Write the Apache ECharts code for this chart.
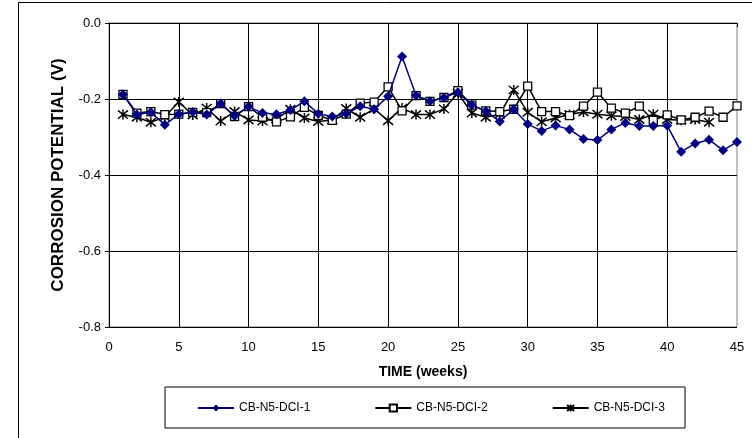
<!DOCTYPE html>
<html>
<head>
<meta charset="utf-8">
<title>Corrosion potential</title>
<script src="https://cdn.jsdelivr.net/npm/echarts@6/dist/echarts.min.js"></script>
<style>
html,body{margin:0;padding:0;background:#fff;}
#main{width:752px;height:438px;}
</style>
</head>
<body>
<div id="main"></div>
<script>
// weeks of exposure
var weeks=[1,2,3,4,5,6,7,8,9,10,11,12,13,14,15,16,17,18,19,20,21,22,23,24,25,26,27,28,29,30,31,32,33,34,35,36,37,38,39,40,41,42,43,44,45];
var yTicks=['0.0','-0.2','-0.4','-0.6','-0.8'];
var seriesNames=['CB-N5-DCI-1','CB-N5-DCI-2','CB-N5-DCI-3'];
var dci1=[-0.188,-0.241,-0.235,-0.268,-0.240,-0.234,-0.241,-0.212,-0.244,-0.220,
	-0.237,-0.240,-0.229,-0.206,-0.239,-0.246,-0.239,-0.219,-0.227,-0.193,
	-0.088,-0.191,-0.206,-0.197,-0.182,-0.216,-0.232,-0.259,-0.227,-0.266,
	-0.284,-0.270,-0.280,-0.305,-0.308,-0.280,-0.263,-0.271,-0.271,-0.270,
	-0.339,-0.317,-0.307,-0.335,-0.313];
var dci2=[-0.188,-0.237,-0.233,-0.241,-0.240,-0.235,-0.236,-0.212,-0.246,-0.220,
	-0.248,-0.260,-0.247,-0.222,-0.243,-0.256,-0.240,-0.211,-0.208,-0.168,
	-0.231,-0.191,-0.206,-0.196,-0.178,-0.216,-0.231,-0.233,-0.227,-0.166,
	-0.233,-0.233,-0.244,-0.219,-0.182,-0.224,-0.237,-0.219,-0.256,-0.242,
	-0.255,-0.248,-0.232,-0.248,-0.218];
var dci3=[-0.241,-0.248,-0.261,-0.247,-0.208,-0.242,-0.224,-0.258,-0.233,-0.255,
	-0.258,-0.252,-0.227,-0.250,-0.259,-0.255,-0.225,-0.248,-0.226,-0.257,
	-0.224,-0.241,-0.241,-0.226,-0.185,-0.237,-0.248,-0.240,-0.176,-0.235,
	-0.260,-0.250,-0.241,-0.234,-0.240,-0.244,-0.246,-0.254,-0.240,-0.254,
	-0.256,-0.254,-0.261];

var toPairs=function(vals){
	var out=[];
	for(var i=0;i<vals.length;i++){
		out.push([weeks[i],vals[i]]);
	}
	return out;
};

var FONT='"Liberation Sans", Arial, sans-serif';
var starPath='path://M0,0L10,10M10,0L0,10M5,-1L5,11';

var dom=document.getElementById('main');
var myChart=echarts.init(dom,null,{renderer:'canvas'});

var option={
	animation:false,
	backgroundColor:'#fff',
	textStyle:{fontFamily:FONT,color:'#000'},
	grid:{
		left:109,right:15,top:23,bottom:111,
		show:true,
		borderColor:'#808080',
		borderWidth:1
	},
	xAxis:{
		type:'value',
		min:0,max:45,interval:5,
		axisLine:{lineStyle:{color:'#000',width:1}},
		axisTick:{show:true,length:4,inside:false,lineStyle:{color:'#000'}},
		axisLabel:{color:'#000',fontSize:13,fontFamily:FONT,margin:14},
		splitLine:{show:true,showMaxLine:false,lineStyle:{color:'#000',width:1}}
	},
	yAxis:{
		type:'value',
		min:-0.8,max:0,interval:0.2,
		axisLine:{show:true,lineStyle:{color:'#000',width:1}},
		axisTick:{show:true,length:4,lineStyle:{color:'#000'}},
		axisLabel:{
			color:'#000',fontSize:13,fontFamily:FONT,margin:8,
			formatter:function(v){
				var idx=Math.round(-v/0.2);
				return yTicks[idx];
			}
		},
		splitLine:{show:true,showMaxLine:false,lineStyle:{color:'#000',width:1}}
	},
	legend:{
		data:seriesNames,
		left:165,top:387,
		orient:'horizontal',
		itemWidth:36,itemHeight:9,itemGap:64,
		padding:[15,20,14,32],
		borderColor:'#000',borderWidth:1,
		textStyle:{fontFamily:FONT,fontSize:12,color:'#000'}
	},
	graphic:[
		{
			type:'rect',
			shape:{x:18.5,y:2.5,width:800,height:500},
			style:{fill:'none',stroke:'#000',lineWidth:1},
			silent:true
		},
		{
			type:'text',
			x:58,y:175,rotation:Math.PI/2,
			style:{
				text:'CORROSION POTENTIAL (V)',
				font:'bold 17px '+FONT,
				fill:'#000',
				textAlign:'center',textVerticalAlign:'middle'
			}
		},
		{
			type:'text',
			x:423,y:372,
			style:{
				text:'TIME (weeks)',
				font:'bold 14px '+FONT,
				fill:'#000',
				textAlign:'center',textVerticalAlign:'middle'
			}
		}
	],
	series:[
		{
			name:seriesNames[0],
			type:'line',
			data:toPairs(dci1),
			symbol:'diamond',symbolSize:10,
			lineStyle:{color:'#000080',width:1.5},
			itemStyle:{color:'#000080'},
			z:4
		},
		{
			name:seriesNames[1],
			type:'line',
			data:toPairs(dci2),
			symbol:'rect',symbolSize:8,
			lineStyle:{color:'#000',width:1.5},
			itemStyle:{color:'#fff',borderColor:'#000',borderWidth:1.3},
			z:3
		},
		{
			name:seriesNames[2],
			type:'line',
			data:toPairs(dci3),
			symbol:starPath,symbolSize:10,
			lineStyle:{color:'#000',width:1.5},
			itemStyle:{color:'#000',borderColor:'#000',borderWidth:1.5},
			z:2
		}
	]
};

if(option && typeof option==='object'){
	myChart.setOption(option,true);
}
</script>
</body>
</html>
